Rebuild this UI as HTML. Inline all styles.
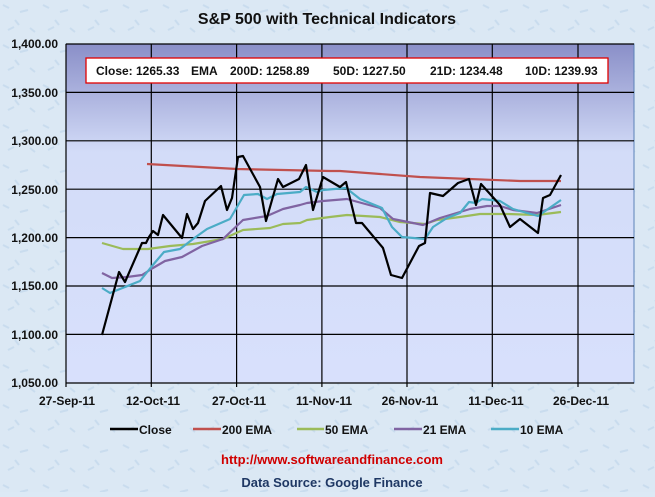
<!DOCTYPE html>
<html><head><meta charset="utf-8"><style>
body{margin:0;width:655px;height:492px;overflow:hidden;background:#dce9f5;font-family:"Liberation Sans",sans-serif;}
</style></head><body>
<svg width="655" height="492" xmlns="http://www.w3.org/2000/svg" font-family="Liberation Sans, sans-serif">
<defs>
<linearGradient id="g" x1="0" y1="0" x2="0" y2="1">
<stop offset="0" stop-color="#8a8fc8"/><stop offset="0.32" stop-color="#d3dcf8"/><stop offset="1" stop-color="#d8e0fc"/>
</linearGradient>
<pattern id="tex" width="40" height="40" patternUnits="userSpaceOnUse">
<rect width="40" height="40" fill="#dbe8f4"/>
<path d="M3 5l6 3M20 12l8-2M30 28l5 4M8 30l6-3M15 20l4 5" stroke="#c9dcee" stroke-width="2"/>
</pattern>
</defs>
<rect width="655" height="492" fill="url(#tex)"/>
<text x="327" y="24" text-anchor="middle" font-size="16" font-weight="bold" fill="#111">S&amp;P 500 with Technical Indicators</text>
<rect x="66" y="44" width="568" height="339" fill="url(#g)" stroke="#5b82b8"/>
<g stroke="#000" stroke-width="1.2">
<line x1="66" x2="634" y1="44" y2="44"/><line x1="66" x2="634" y1="92.4" y2="92.4"/><line x1="66" x2="634" y1="140.8" y2="140.8"/><line x1="66" x2="634" y1="189.2" y2="189.2"/><line x1="66" x2="634" y1="237.6" y2="237.6"/><line x1="66" x2="634" y1="286" y2="286"/><line x1="66" x2="634" y1="334.4" y2="334.4"/>
<line x1="151.3" x2="151.3" y1="44" y2="387"/><line x1="236.6" x2="236.6" y1="44" y2="387"/><line x1="321.9" x2="321.9" y1="44" y2="387"/><line x1="407" x2="407" y1="44" y2="387"/><line x1="492.3" x2="492.3" y1="44" y2="387"/><line x1="578" x2="578" y1="44" y2="387"/>
<line x1="66" x2="66" y1="44" y2="387"/><line x1="66" x2="634" y1="383" y2="383"/>
</g>
<g font-size="12" font-weight="bold" fill="#111" text-anchor="end">
<text x="58" y="48">1,400.00</text><text x="58" y="97">1,350.00</text><text x="58" y="145">1,300.00</text><text x="58" y="194">1,250.00</text><text x="58" y="242">1,200.00</text><text x="58" y="290">1,150.00</text><text x="58" y="339">1,100.00</text><text x="58" y="387">1,050.00</text>
</g>
<g font-size="12" font-weight="bold" fill="#111" text-anchor="middle">
<text x="67" y="405">27-Sep-11</text><text x="153" y="405">12-Oct-11</text><text x="239" y="405">27-Oct-11</text><text x="324" y="405">11-Nov-11</text><text x="410" y="405">26-Nov-11</text><text x="496" y="405">11-Dec-11</text><text x="581" y="405">26-Dec-11</text>
</g>
<rect x="86" y="58" width="522" height="25" fill="#fff" stroke="#e00000" stroke-width="1.3"/>
<g font-size="12" font-weight="bold" fill="#111">
<text x="96" y="75">Close: 1265.33</text><text x="191" y="75">EMA</text><text x="230" y="75">200D: 1258.89</text><text x="333" y="75">50D: 1227.50</text><text x="430" y="75">21D: 1234.48</text><text x="525" y="75">10D: 1239.93</text>
</g>
<g fill="none" stroke-width="2.2" stroke-linejoin="round">
<polyline stroke="#c0504d" points="147,164 237,169 330,171 340,171 420,177 520,181 561,181"/>
<polyline stroke="#9bbb59" points="102,243 123,249 148,249 170,246 193,244 223,239 243,230 270,228 283,224 300,223 307,220 330,217 347,215 380,217 400,222 425,224 437,220 460,217 480,214 507,214 537,215 561,212"/>
<polyline stroke="#8064a2" points="102,273 112,278 127,277 142,275 153,268 165,261 182,257 202,246 223,239 243,220 267,216 283,209 300,205 307,203 323,201 347,199 380,208 393,219 423,225 440,218 470,209 487,206 500,206 513,210 537,213 561,205"/>
<polyline stroke="#4bacc6" points="102,288 110,293 120,289 140,281 152,266 164,252 180,249 193,239 207,229 230,219 244,195 258,194 267,199 277,194 300,192 306,187 317,192 323,190 346,188 360,199 382,208 392,227 402,237 425,239 433,227 447,218 460,213 469,202 476,203 482,199 500,201 513,209 538,216 561,200"/>
<polyline stroke="#000" points="102,335 119,272 125,282 142,243 146,243 149,237 153,231 158,235 163,215 182,238 187,214 193,229 198,223 205,201 221,186 227,210 232,198 238,157 243,156 260,187 266,221 278,179 283,187 299,179 306,165 313,210 323,177 340,187 346,182 356,223 362,223 383,248 391,275 402,278 419,246 425,243 430,193 443,196 458,183 469,179 476,205 481,184 500,205 510,227 520,219 538,233 543,198 550,195 561,175"/>
</g>
<g stroke-width="2.5">
<line x1="110" x2="138" y1="429" y2="429" stroke="#000"/><line x1="193" x2="221" y1="429" y2="429" stroke="#c0504d"/><line x1="297" x2="324" y1="429" y2="429" stroke="#9bbb59"/><line x1="394" x2="422" y1="429" y2="429" stroke="#8064a2"/><line x1="491" x2="519" y1="429" y2="429" stroke="#4bacc6"/>
</g>
<g font-size="12" font-weight="bold" fill="#111">
<text x="139" y="434">Close</text><text x="222" y="434">200 EMA</text><text x="325" y="434">50 EMA</text><text x="423" y="434">21 EMA</text><text x="520" y="434">10 EMA</text>
</g>
<text x="332" y="464" text-anchor="middle" font-size="13" font-weight="bold" fill="#d00000">http://www.softwareandfinance.com</text>
<text x="332" y="487" text-anchor="middle" font-size="13" font-weight="bold" fill="#1f3864">Data Source: Google Finance</text>
</svg>
</body></html>
